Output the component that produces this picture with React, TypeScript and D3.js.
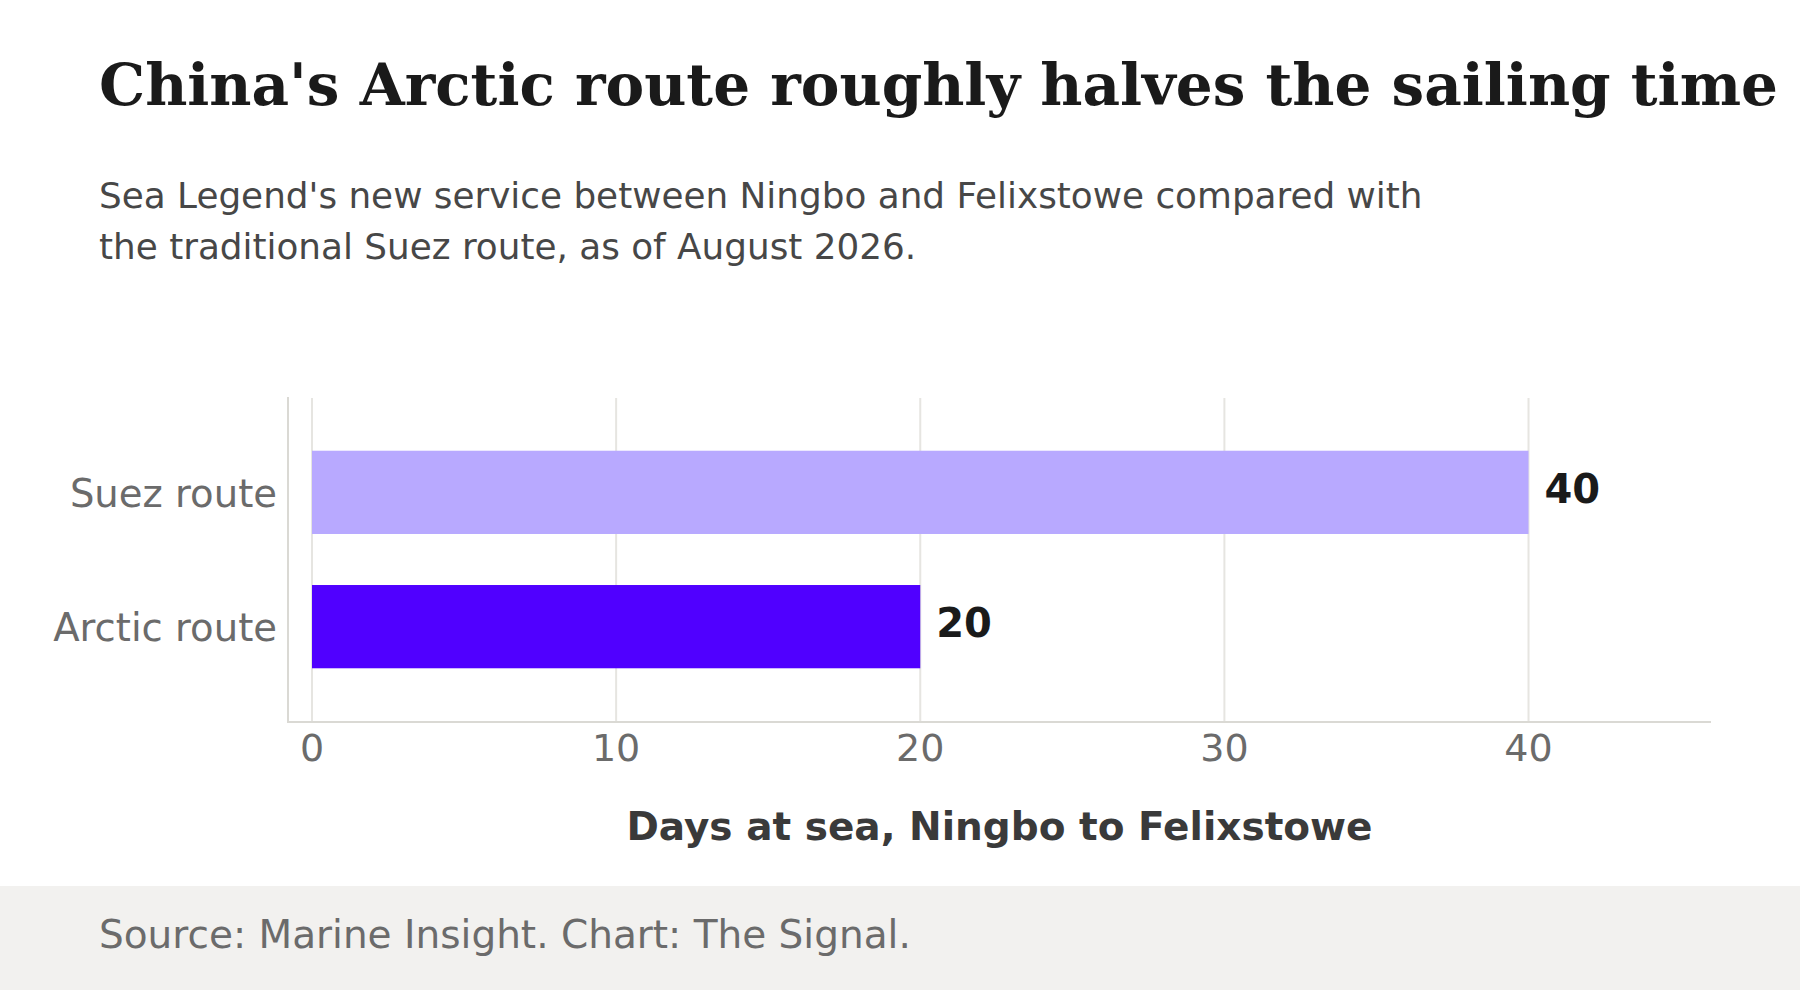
import * as d3 from "d3";

const WIDTH = 1800;
const HEIGHT = 990;

const TITLE = "China's Arctic route roughly halves the sailing time";
const SUBTITLE_LINES = [
  "Sea Legend's new service between Ningbo and Felixstowe compared with",
  "the traditional Suez route, as of August 2026.",
];
const SOURCE = "Source: Marine Insight. Chart: The Signal.";
const X_TITLE = "Days at sea, Ningbo to Felixstowe";

const routes = ["Suez route", "Arctic route"];
const days = [40, 20];
const barColors = ["#b8a9ff", "#5000ff"];
const xTicks = [0, 10, 20, 30, 40];

const SANS = "'DejaVu Sans', Verdana, sans-serif";
const SERIF = "'DejaVu Serif', Georgia, serif";

// plot frame
const FRAME = { left: 288, right: 1711, top: 397, bottom: 722 };

export default function App() {
  const x = d3.scaleLinear().domain([0, 46]).range([312, FRAME.right]);
  const y = d3
    .scaleBand<string>()
    .domain(routes)
    .range([FRAME.top, FRAME.bottom])
    .paddingInner(0.38)
    .paddingOuter(0.4);

  return (
    <div style={{ position: "absolute", left: 0, top: 0 }}>
      <svg width={WIDTH} height={HEIGHT} viewBox={`0 0 ${WIDTH} ${HEIGHT}`}>
        <rect width={WIDTH} height={HEIGHT} fill="#ffffff" />

        <text x={99} y={105} fontFamily={SERIF} fontWeight="bold" fontSize={58} fill="#1a1a1a">
          {TITLE}
        </text>
        {SUBTITLE_LINES.map((line, i) => (
          <text key={i} x={99} y={208 + i * 51} fontFamily={SANS} fontSize={35.8} fill="#474747">
            {line}
          </text>
        ))}

        {/* grid */}
        {xTicks.map((t) => (
          <line
            key={t}
            x1={x(t)}
            x2={x(t)}
            y1={FRAME.top + 1}
            y2={FRAME.bottom}
            stroke="#e6e5e1"
            strokeWidth={2}
          />
        ))}

        {/* bars */}
        {routes.map((r, i) => (
          <rect
            key={r}
            x={x(0)}
            y={y(r)}
            width={x(days[i]) - x(0)}
            height={y.bandwidth()}
            fill={barColors[i]}
          />
        ))}

        {/* value labels */}
        {routes.map((r, i) => (
          <text
            key={r}
            x={x(days[i]) + 16}
            y={(y(r) ?? 0) + y.bandwidth() / 2}
            dy="0.27em"
            fontFamily={SANS}
            fontWeight="bold"
            fontSize={40}
            fill="#1a1a1a"
          >
            {days[i]}
          </text>
        ))}

        {/* axes */}
        <line x1={FRAME.left} x2={FRAME.left} y1={FRAME.top} y2={FRAME.bottom} stroke="#dad9d4" strokeWidth={2} />
        <line x1={FRAME.left - 1} x2={FRAME.right} y1={FRAME.bottom} y2={FRAME.bottom} stroke="#dad9d4" strokeWidth={2} />

        {routes.map((r) => (
          <text
            key={r}
            x={277}
            y={(y(r) ?? 0) + y.bandwidth() / 2}
            dy="0.38em"
            textAnchor="end"
            fontFamily={SANS}
            fontSize={38.6}
            fill="#6b6b6b"
          >
            {r}
          </text>
        ))}

        {xTicks.map((t) => (
          <text
            key={t}
            x={x(t)}
            y={FRAME.bottom + 39}
            textAnchor="middle"
            fontFamily={SANS}
            fontSize={38}
            fill="#6b6b6b"
          >
            {t}
          </text>
        ))}

        <text
          x={(FRAME.left + FRAME.right) / 2}
          y={840}
          textAnchor="middle"
          fontFamily={SANS}
          fontWeight="bold"
          fontSize={39}
          fill="#3a3a3a"
        >
          {X_TITLE}
        </text>

        {/* footer */}
        <rect x={0} y={886} width={WIDTH} height={HEIGHT - 886} fill="#f2f1ef" />
        <text x={99} y={948} fontFamily={SANS} fontSize={39} fill="#6b6b6b">
          {SOURCE}
        </text>
      </svg>
    </div>
  );
}
